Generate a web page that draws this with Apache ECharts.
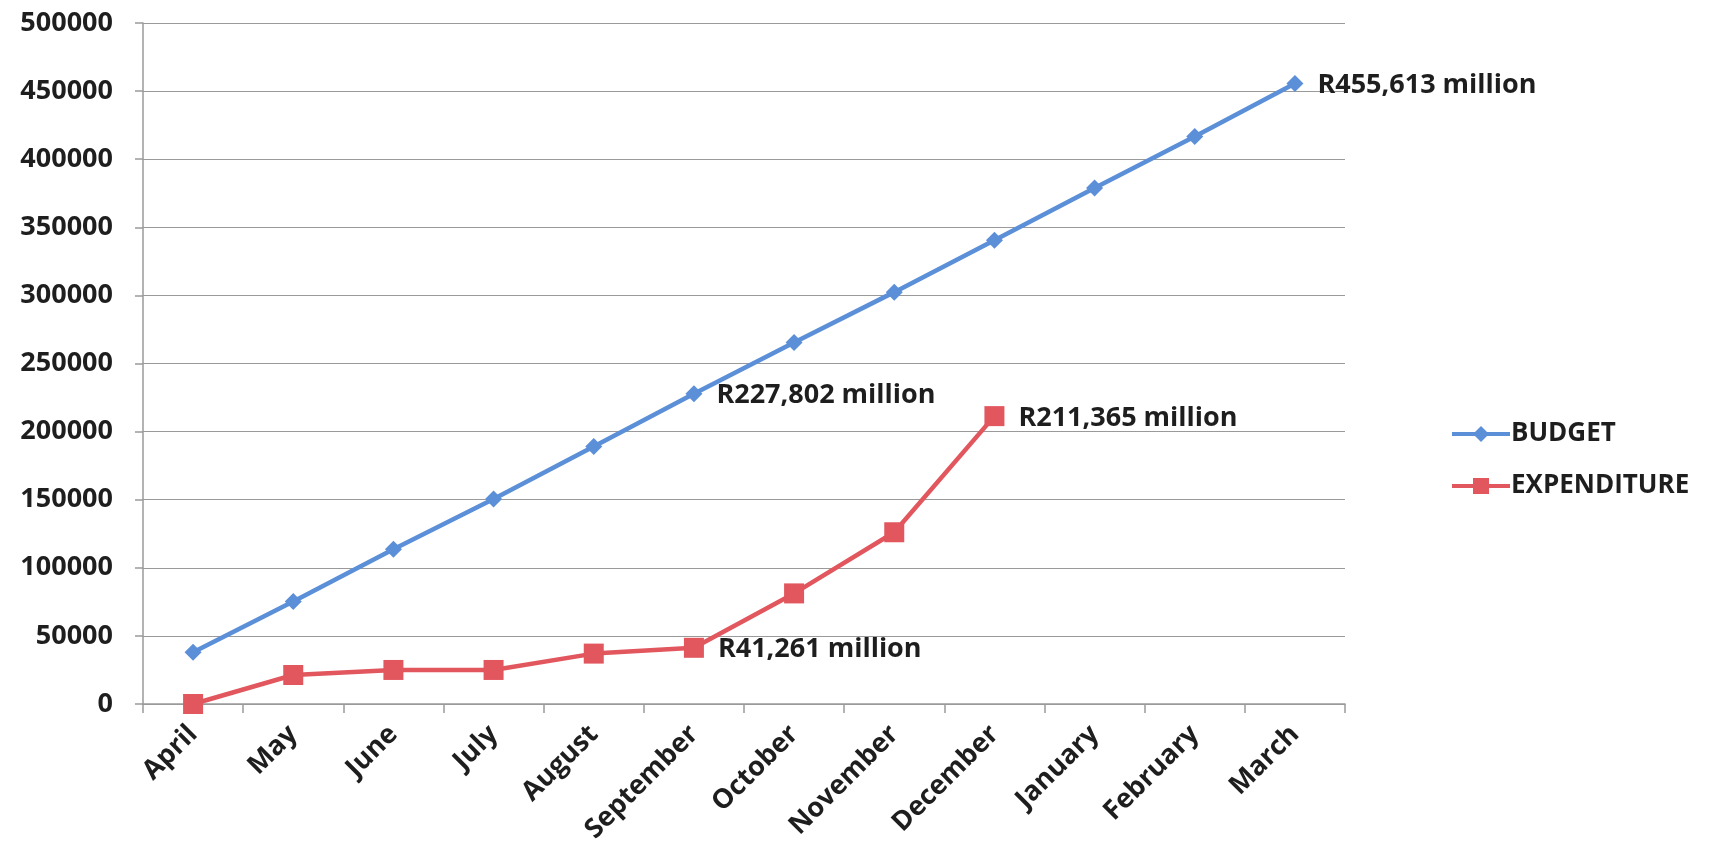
<!DOCTYPE html>
<html>
<head>
<meta charset="utf-8">
<script src="https://cdn.jsdelivr.net/npm/echarts@6/dist/echarts.min.js"></script>
<style>
  html, body { margin: 0; padding: 0; background: #fff; }
  #chart { width: 1711px; height: 854px; }
</style>
</head>
<body>
<div id="chart"></div>
<script>
// months of the financial year
const months = ['April', 'May', 'June', 'July', 'August', 'September',
  'October', 'November', 'December', 'January', 'February', 'March'];

// cumulative values, R million
const budget = [38000, 75200, 113700, 150500, 189000, 227802,
  265400, 302400, 340500, 378900, 416700, 455613];
const expenditure = [0, 21300, 25000, 25000, 37000, 41261,
  81200, 126100, 211365, null, null, null];

// which points get a value label
const budgetLabelIdx = [5, 11];
const expenditureLabelIdx = [5, 8];

const yTicks = { min: 0, max: 500000, interval: 50000 };

const FONT = '"Open Sans", "Noto Sans", sans-serif';
const TEXT = '#1e1e1e';
const GRID = '#9a9a9a';
const BLUE = '#5b8fd8';
const RED = '#e2565e';

const fmtMillion = v => 'R' + v.toLocaleString('en-US') + ' million';

function withLabels(values, idx) {
  return values.map((v, i) => {
    if (v == null || idx.indexOf(i) < 0) return v;
    return {
      value: v,
      label: {
        show: true,
        position: 'right',
        distance: 14,
        offset: [0, 2],
        formatter: p => fmtMillion(p.value),
        color: TEXT,
        fontFamily: FONT,
        fontWeight: 'bold',
        fontSize: 27
      }
    };
  });
}

const chart = echarts.init(document.getElementById('chart'));
chart.setOption({
  animation: false,
  backgroundColor: '#fff',
  textStyle: { fontFamily: FONT },
  grid: { left: 143, right: 366, top: 23, bottom: 150 },
  legend: {
    orient: 'vertical',
    left: 1445,
    top: 416,
    itemWidth: 58,
    itemHeight: 20,
    itemGap: 26,
    lineStyle: { width: 4 },
    textStyle: { color: TEXT, fontFamily: FONT, fontWeight: 'bold', fontSize: 26, padding: [0, 0, 0, -4] },
    data: ['BUDGET', 'EXPENDITURE']
  },
  xAxis: {
    type: 'category',
    data: months,
    boundaryGap: true,
    axisLine: { lineStyle: { color: GRID, width: 1.5 } },
    axisTick: { show: true, length: 9, lineStyle: { color: GRID, width: 1.5 } },
    axisLabel: {
      rotate: 45,
      margin: 26,
      color: TEXT,
      fontFamily: FONT,
      fontWeight: 'bold',
      fontSize: 27
    },
    splitLine: { show: false }
  },
  yAxis: {
    type: 'value',
    min: yTicks.min,
    max: yTicks.max,
    interval: yTicks.interval,
    axisLine: { show: true, lineStyle: { color: GRID, width: 1.5 } },
    axisTick: { show: true, length: 8, lineStyle: { color: GRID, width: 1.5 } },
    axisLabel: {
      margin: 30,
      formatter: v => String(v),
      color: TEXT,
      fontFamily: FONT,
      fontWeight: 'bold',
      fontSize: 27
    },
    splitLine: { show: true, lineStyle: { color: GRID, width: 1.2 } }
  },
  series: [
    {
      name: 'BUDGET',
      type: 'line',
      data: withLabels(budget, budgetLabelIdx),
      symbol: 'diamond',
      symbolSize: 17,
      itemStyle: { color: BLUE },
      lineStyle: { color: BLUE, width: 4.5 },
      z: 3
    },
    {
      name: 'EXPENDITURE',
      type: 'line',
      data: withLabels(expenditure, expenditureLabelIdx),
      symbol: 'rect',
      symbolSize: 20,
      connectNulls: false,
      itemStyle: { color: RED },
      lineStyle: { color: RED, width: 4.5 },
      z: 2
    }
  ]
});
</script>
</body>
</html>
